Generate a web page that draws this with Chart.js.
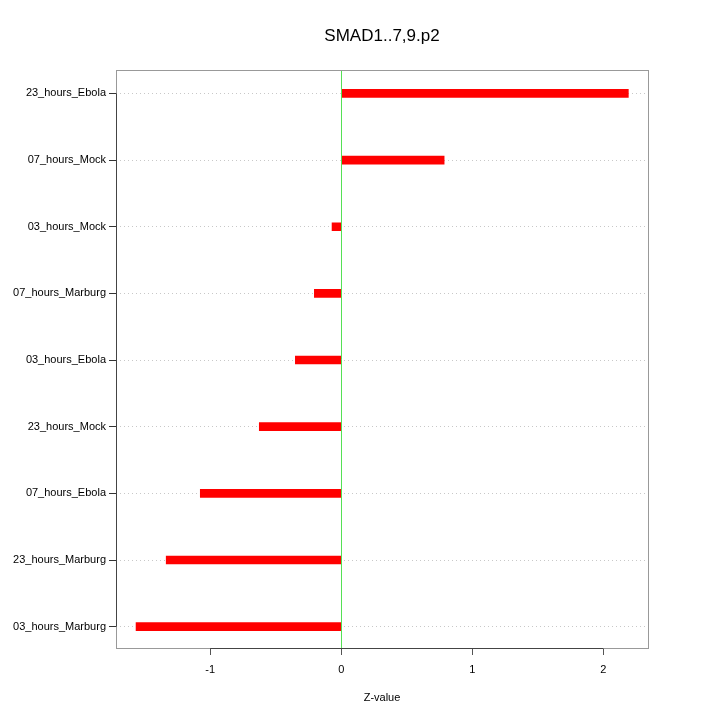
<!DOCTYPE html>
<html>
<head>
<meta charset="utf-8">
<script src="https://cdn.jsdelivr.net/npm/chart.js@4/dist/chart.umd.min.js"></script>
<style>
  html, body { margin: 0; padding: 0; background: #fff; }
  #wrap { width: 720px; height: 720px; }
</style>
</head>
<body>
<div id="wrap"><canvas id="zchart" width="720" height="720"></canvas></div>
<script>
// Z-values per sample, top to bottom as drawn
const sampleLabels = ['23_hours_Ebola', '07_hours_Mock', '03_hours_Mock', '07_hours_Marburg',
    '03_hours_Ebola', '23_hours_Mock', '07_hours_Ebola', '23_hours_Marburg', '03_hours_Marburg'];
const zValues = [2.19, 0.785, -0.07, -0.205, -0.35, -0.625, -1.075, -1.335, -1.565];
const xTicks = [-1, 0, 1, 2];

const font = 'Liberation Sans, Arial, Helvetica, sans-serif';

// plot frame drawn like R's box() + axis(), plus green line at z = 0
const boxPlugin = {
    id: 'box',
    afterDraw(chart) {
        const a = chart.chartArea, ctx = chart.ctx;
        const xs = chart.scales.x, ys = chart.scales.y;
        const x0 = Math.round(xs.getPixelForValue(0)) + 0.5;
        const left = Math.round(a.left) + 0.5, bottom = Math.round(a.bottom) + 0.5;
        ctx.save();
        ctx.lineWidth = 1;
        ctx.strokeStyle = '#55e055';
        ctx.beginPath();
        ctx.moveTo(x0, a.top);
        ctx.lineTo(x0, a.bottom);
        ctx.stroke();
        ctx.strokeStyle = '#999';
        ctx.strokeRect(left, Math.round(a.top) + 0.5,
            Math.round(a.right - a.left), Math.round(a.bottom - a.top));
        // axis lines over the tick range
        ctx.strokeStyle = '#444';
        ctx.beginPath();
        ctx.moveTo(left, ys.getPixelForValue(0));
        ctx.lineTo(left, ys.getPixelForValue(sampleLabels.length - 1));
        ctx.moveTo(xs.getPixelForValue(xTicks[0]), bottom);
        ctx.lineTo(xs.getPixelForValue(xTicks[xTicks.length - 1]), bottom);
        ctx.stroke();
        ctx.restore();
    }
};

new Chart(document.getElementById('zchart'), {
    type: 'bar',
    data: {
        datasets: [{
            data: zValues.map((v, i) => ({ x: v, y: i })),
            backgroundColor: '#ff0000',
            borderWidth: 0,
            barThickness: 8
        }]
    },
    options: {
        indexAxis: 'y',
        responsive: false,
        animation: false,
        layout: { padding: { left: 0, right: 72, top: 0, bottom: 0 } },
        plugins: {
            legend: { display: false },
            tooltip: { enabled: false },
            title: {
                display: true,
                fullSize: false,
                text: 'SMAD1..7,9.p2',
                color: '#000',
                font: { family: font, size: 17, weight: 'normal' },
                padding: { top: 26, bottom: 24 }
            }
        },
        scales: {
            x: {
                type: 'linear',
                min: -1.718,
                max: 2.34,
                afterBuildTicks: s => { s.ticks = xTicks.map(v => ({ value: v })); },
                afterFit: s => { s.height = 72; },
                grid: {
                    drawOnChartArea: false,
                    tickColor: '#555',
                    tickLength: 7
                },
                border: { display: false },
                ticks: { color: '#000', font: { family: font, size: 11 }, padding: 8, maxRotation: 0 },
                title: {
                    display: true,
                    text: 'Z-value',
                    color: '#000',
                    font: { family: font, size: 11 },
                    padding: { top: 0, bottom: 15 }
                }
            },
            y: {
                type: 'linear',
                reverse: true,
                offset: false,
                min: -0.345,
                max: 8.32,
                z: 1,
                afterBuildTicks: s => { s.ticks = sampleLabels.map((_, i) => ({ value: i })); },
                afterFit: s => { s.width = 116; },
                grid: {
                    offset: false,
                    color: '#c8c8c8',
                    tickColor: '#333',
                    tickLength: 7
                },
                border: { display: false, dash: [1, 3] },
                ticks: {
                    color: '#000',
                    font: { family: font, size: 11 },
                    padding: 3,
                    callback: v => sampleLabels[v]
                }
            }
        }
    },
    plugins: [boxPlugin]
});
</script>
</body>
</html>
